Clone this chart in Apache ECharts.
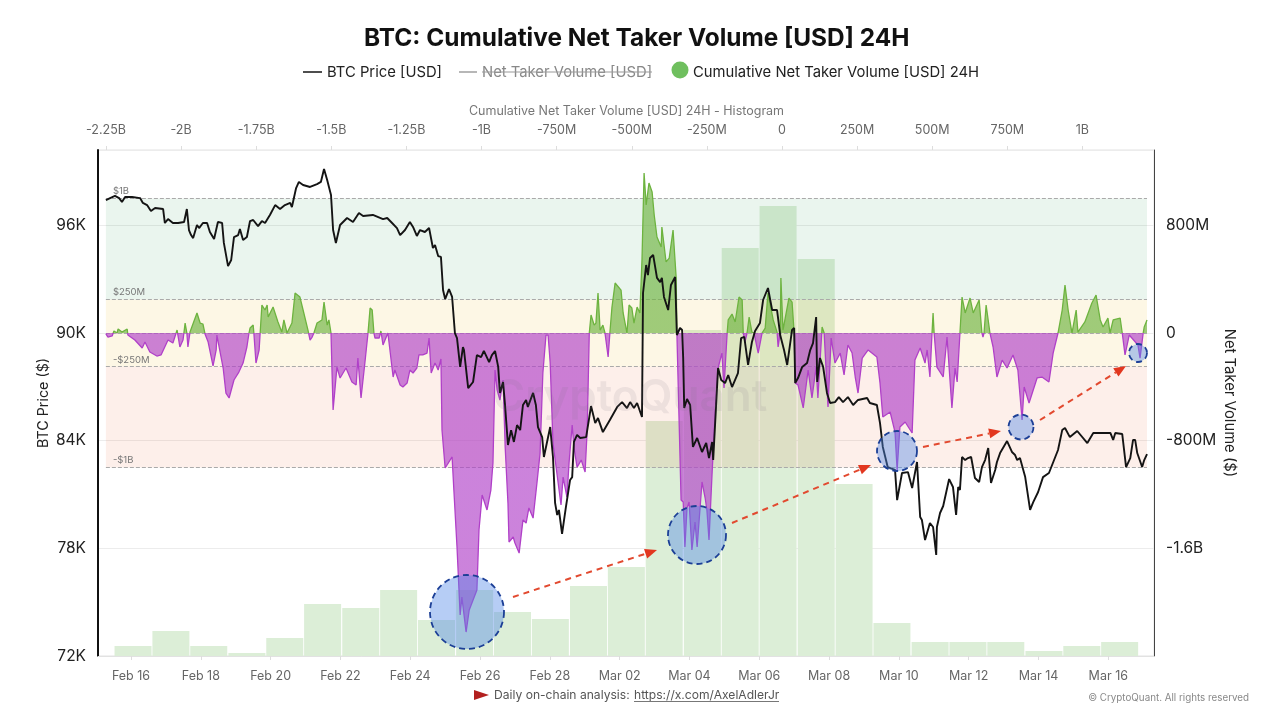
<!DOCTYPE html>
<html>
<head>
<meta charset="utf-8">
<title>BTC: Cumulative Net Taker Volume [USD] 24H</title>
<script src="https://cdn.jsdelivr.net/npm/echarts@6/dist/echarts.min.js"></script>
<style>
html,body{margin:0;padding:0;background:#fff;}
#main{width:1280px;height:720px;}
</style>
</head>
<body>
<div id="main"></div>
<script>
// days are counted from Feb 16 2025 00:00 UTC
var priceDays = [-0.72,-0.60,-0.46,-0.34,-0.26,-0.17,0.03,0.26,0.34,0.46,0.57,0.69,0.92,0.97,1.06,1.20,1.35,1.52,1.60,1.66,1.72,1.78,1.89,1.95,2.06,2.18,2.26,2.38,2.49,2.61,2.66,2.78,2.87,2.95,3.07,3.12,3.21,3.32,3.41,3.50,3.64,3.75,3.84,3.98,4.13,4.27,4.41,4.56,4.61,4.73,4.81,4.93,5.13,5.33,5.44,5.53,5.62,5.73,5.79,5.87,5.99,6.19,6.36,6.53,6.65,6.93,7.22,7.34,7.48,7.62,7.71,7.85,7.99,8.08,8.19,8.28,8.42,8.54,8.65,8.71,8.80,8.88,8.94,9.00,9.11,9.20,9.25,9.28,9.34,9.43,9.51,9.54,9.66,9.80,9.91,10.03,10.11,10.26,10.34,10.43,10.52,10.57,10.66,10.72,10.80,10.89,10.97,11.06,11.15,11.23,11.32,11.37,11.52,11.60,11.66,11.78,11.83,12.01,12.09,12.15,12.21,12.26,12.35,12.46,12.58,12.64,12.69,12.78,12.87,13.04,13.18,13.30,13.38,13.52,13.72,13.93,14.07,14.21,14.30,14.41,14.50,14.64,14.67,14.76,14.81,14.87,14.96,15.07,15.16,15.21,15.27,15.39,15.47,15.59,15.64,15.73,15.79,15.82,15.85,15.93,16.02,16.10,16.22,16.36,16.48,16.56,16.65,16.68,16.82,16.91,17.02,17.11,17.22,17.39,17.48,17.57,17.68,17.79,17.88,18.02,18.11,18.25,18.37,18.51,18.60,18.71,18.80,18.94,19.00,19.03,19.11,19.23,19.37,19.46,19.54,19.63,19.66,19.74,19.83,19.94,20.03,20.17,20.28,20.40,20.54,20.69,20.83,21.09,21.17,21.37,21.46,21.54,21.68,21.89,21.95,22.09,22.26,22.38,22.52,22.61,22.66,22.75,22.89,22.98,23.07,23.09,23.18,23.27,23.44,23.55,23.64,23.70,23.75,23.81,23.90,23.98,24.07,24.18,24.30,24.38,24.47,24.56,24.64,24.76,24.81,24.90,25.10,25.24,25.33,25.39,25.47,25.62,25.76,25.85,25.99,26.13,26.30,26.56,26.68,26.76,26.90,27.11,27.40,27.57,27.77,28.06,28.14,28.20,28.40,28.51,28.63,28.71,28.77,28.83,28.97,29.03,29.11];
var priceValues = [97410,97520,97640,97520,97300,97580,97580,97520,97250,97130,96800,96970,96910,96130,96350,96130,96130,96190,96910,95740,95460,95290,96020,95850,96130,96130,95630,95240,96190,96130,95020,93730,94070,95350,95460,95800,95180,95350,96240,96300,95960,96240,96130,96580,97130,96910,97130,97250,97020,98080,98420,98250,98140,98300,98420,99140,98530,97690,95740,95020,96020,96410,96190,96690,96520,96580,96350,96410,96130,95850,95460,95740,96190,95910,95410,95740,95630,95850,94740,94900,94290,94240,92400,91890,92450,92010,92060,90000,89720,88110,89220,89050,86930,87270,88770,88660,89000,88380,88770,89000,88110,86660,87270,85880,83760,84590,83930,84870,84590,85990,86270,85880,86660,85990,84760,84200,83090,84760,83090,80530,79860,80140,78800,80300,81810,81970,83930,84320,84150,84200,85930,84980,85260,84480,85150,85880,86150,85820,86150,85820,86100,85320,92230,93790,93230,94180,94350,93070,92840,93070,92010,91280,92680,93120,89890,90280,90170,88610,85820,86320,85990,83650,84150,83370,83870,83030,83930,82920,88050,87380,87210,87660,86990,87770,89720,89780,88220,89500,90110,90560,91840,92510,91280,91280,89890,89050,88220,90170,90280,87210,87490,88110,88330,89050,89440,90890,87270,88610,88110,86660,86100,86150,86430,86150,86430,85990,86270,86380,86100,85990,84980,83650,82530,82370,80690,82200,82250,81360,82810,79750,79580,78460,79410,79190,77630,79190,79970,80360,81860,81420,79860,81420,81250,83090,82920,83030,83090,81920,81700,82530,82920,83590,81640,82370,82810,83310,83980,83370,83200,82920,83030,81970,80140,80580,81140,81970,82200,83480,84590,84710,84200,84540,83870,84430,84430,84430,84040,84430,84370,82530,83030,84040,84040,83310,82530,82920,83250];

// cumulative net taker volume, millions of USD
var netDays = [-0.72,-0.66,-0.54,-0.49,-0.40,-0.37,-0.26,-0.11,-0.09,0.11,0.32,0.40,0.54,0.74,0.86,1.06,1.20,1.32,1.40,1.49,1.55,1.60,1.63,1.69,1.89,1.98,2.06,2.12,2.21,2.35,2.44,2.46,2.64,2.72,2.81,2.95,3.09,3.21,3.32,3.38,3.41,3.50,3.52,3.58,3.67,3.70,3.75,3.84,3.90,3.93,4.07,4.21,4.32,4.38,4.47,4.61,4.70,4.84,4.93,5.07,5.13,5.19,5.24,5.33,5.47,5.53,5.62,5.67,5.73,5.76,5.79,5.90,5.99,6.16,6.33,6.45,6.50,6.59,6.70,6.79,6.85,6.91,6.96,6.99,7.11,7.16,7.22,7.36,7.51,7.56,7.71,7.79,7.91,7.99,8.08,8.19,8.25,8.36,8.48,8.54,8.60,8.71,8.80,8.88,8.91,9.00,9.20,9.25,9.34,9.43,9.48,9.60,9.69,9.80,9.91,9.97,10.06,10.11,10.20,10.31,10.37,10.43,10.49,10.57,10.66,10.72,10.80,10.83,10.95,11.00,11.12,11.23,11.32,11.40,11.52,11.63,11.72,11.80,11.89,11.95,12.01,12.09,12.32,12.38,12.49,12.55,12.64,12.69,12.78,12.90,13.01,13.07,13.13,13.18,13.27,13.32,13.38,13.44,13.52,13.58,13.67,13.72,13.78,13.87,14.04,14.10,14.21,14.27,14.35,14.41,14.50,14.58,14.64,14.70,14.76,14.84,14.93,14.99,15.07,15.19,15.21,15.33,15.42,15.53,15.62,15.64,15.73,15.76,15.82,15.87,15.93,15.99,16.07,16.16,16.22,16.36,16.45,16.50,16.56,16.65,16.73,16.82,16.93,16.99,17.08,17.11,17.22,17.31,17.42,17.51,17.54,17.59,17.65,17.71,17.79,17.85,17.97,18.08,18.17,18.25,18.40,18.51,18.54,18.60,18.62,18.68,18.85,18.94,19.00,19.03,19.11,19.26,19.40,19.51,19.63,19.68,19.80,19.86,19.97,20.06,20.17,20.32,20.43,20.54,20.66,20.75,20.83,20.95,21.12,21.37,21.46,21.54,21.75,21.89,21.95,22.03,22.18,22.38,22.46,22.61,22.75,22.81,22.89,22.95,22.98,23.01,23.09,23.27,23.38,23.52,23.61,23.67,23.75,23.81,23.90,24.04,24.13,24.30,24.38,24.41,24.44,24.50,24.61,24.70,24.81,24.96,25.10,25.27,25.41,25.53,25.59,25.73,25.96,26.10,26.30,26.42,26.56,26.68,26.76,26.85,26.96,27.08,27.13,27.33,27.53,27.65,27.77,27.85,27.99,28.05,28.14,28.34,28.40,28.48,28.60,28.85,28.91,29.00,29.03,29.11];
var netValues = [-7,-30,-22,15,0,30,7,30,-15,-52,-111,-67,-141,-171,-163,-52,-74,22,-104,-52,74,0,-104,7,149,74,67,-7,-67,-245,-126,-15,-260,-446,-483,-349,-290,-223,-104,0,37,59,0,-223,-126,0,208,171,208,119,193,82,7,97,0,74,297,267,171,22,-52,-30,0,74,97,230,59,97,0,-297,-572,-253,-334,-260,-364,-386,-186,-483,-223,0,186,171,0,-37,-37,15,-89,0,-327,-275,-386,-401,-372,-275,-297,-260,-163,-163,-149,-37,-297,-223,-275,-193,-721,-1003,-921,-1167,-1590,-2095,-1962,-2222,-2058,-1984,-1910,-1464,-1204,-1204,-1315,-1167,-966,-275,-424,-498,-349,-847,-1263,-1553,-1516,-1560,-1635,-1389,-1412,-1300,-1375,-1115,-892,-297,-15,-15,-223,-817,-1278,-1070,-1219,-966,-684,-847,-996,-944,-1033,-721,0,134,59,74,297,22,59,0,-178,0,193,372,319,149,0,208,186,74,193,149,542,1189,951,1115,1048,877,713,639,788,528,557,765,409,0,-929,-1241,-1256,-1590,-1300,-1256,-1612,-1404,-1590,-1107,-1226,-1315,-1538,-1033,-632,-260,-149,-409,0,97,141,82,267,245,7,-67,0,119,7,0,-149,0,37,297,97,7,-104,0,409,22,260,230,0,-372,-386,-557,-275,-483,-253,-483,45,0,-550,-37,-223,-149,-312,-89,-149,-327,-446,-186,-126,-178,-372,-624,-587,-736,-1018,-698,-661,-743,-201,-111,-223,-126,-327,0,149,0,-253,-327,-30,-557,-260,-364,0,267,149,260,149,245,0,-30,0,208,0,-104,-327,-201,-260,-163,-275,-646,-401,-520,-334,-327,-364,-149,0,171,357,171,0,171,7,82,223,282,97,45,111,0,97,111,0,-163,-15,-89,-186,0,45,97];

// histogram over the top axis: bin middle in millions, bar height
var histBins = [-2160,-2034,-1908,-1781,-1655,-1529,-1402,-1276,-1150,-1023,-897,-771,-644,-518,-392,-265,-139,-13,114,240,366,493,619,745,872,998,1124];
var histCounts = [10,25,10,3,18,52,48,66,36,66,44,37,70,89,235,326,408,450,397,172,33,14,14,14,5,10,14];

var tickDays = [0,2,4,6,8,10,12,14,16,18,20,22,24,26,28];
var monthNames = ['Jan','Feb','Mar'];

var FONT = 'Inter, "Noto Sans", sans-serif';
var DAY = 86400000;
var t0 = Date.UTC(2025, 1, 16);
function pairs(xs, ys) {
    return xs.map(function (x, i) { return [x, ys[i]]; });
}
function moneyLabel(v) {
    if (v === 0) return '0';
    if (Math.abs(v) >= 1000) return (v / 1000) + 'B';
    return v + 'M';
}

var chart = echarts.init(document.getElementById('main'));

var bandStart = -0.72, bandEnd = 29.11;

// annotations drawn over the chart
function arrow(x1, y1, x2, y2) {
    var a = Math.atan2(y2 - y1, x2 - x1), s = 12, w = 5;
    var bx = x2 - s * Math.cos(a), by = y2 - s * Math.sin(a);
    return [
        { type: 'line', z: 100, silent: true, shape: { x1: x1, y1: y1, x2: bx, y2: by },
          style: { stroke: '#e2492f', lineWidth: 2, lineDash: [6, 5] } },
        { type: 'polygon', z: 100, silent: true,
          shape: { points: [[x2, y2], [bx - w * Math.sin(a), by + w * Math.cos(a)], [bx + w * Math.sin(a), by - w * Math.cos(a)]] },
          style: { fill: '#e2371f' } }
    ];
}
function circle(cx, cy, r) {
    return { type: 'circle', z: 99, silent: true, shape: { cx: cx, cy: cy, r: r },
             style: { fill: 'rgba(80,135,230,0.42)', stroke: '#1c3f96', lineWidth: 1.8, lineDash: [6, 4] } };
}
function label(x, y, text, size, color, extra) {
    var st = { x: x, y: y, text: text, font: (size) + 'px ' + FONT, fill: color, textVerticalAlign: 'middle' };
    for (var k in (extra || {})) st[k] = extra[k];
    return { type: 'text', z: 50, silent: true, style: st };
}
function rule(x1, y1, x2, y2, color, w) {
    return { type: 'line', z: 50, silent: true, shape: { x1: x1, y1: y1, x2: x2, y2: y2 }, style: { stroke: color, lineWidth: w } };
}

var graphics = [
    // legend
    rule(303, 72, 322, 72, '#222', 1.6),
    label(327, 72.5, 'BTC Price [USD]', 14.8, '#222'),
    rule(459, 72, 477, 72, '#999', 1.4),
    label(482, 72.5, 'Net Taker Volume [USD]', 14.8, '#888'),
    rule(482, 72, 652, 72, '#999', 1),
    { type: 'circle', z: 50, silent: true, shape: { cx: 680, cy: 70, r: 8.5 }, style: { fill: '#6fbf5e' } },
    label(693, 72.5, 'Cumulative Net Taker Volume [USD] 24H', 14.8, '#222'),
    // footer
    { type: 'polygon', z: 50, silent: true, shape: { points: [[474, 690], [489, 695], [474, 700]] }, style: { fill: '#b3201f' } },
    label(494, 695, 'Daily on-chain analysis:', 12.1, '#555'),
    label(634, 695, 'https://x.com/AxelAdlerJr', 12.1, '#555'),
    rule(634, 701.5, 779, 701.5, '#777', 1),
    label(1249, 698, '© CryptoQuant. All rights reserved', 9.8, '#888', { textAlign: 'right' }),
    // watermark
    label(630, 398, 'CryptoQuant', 44, 'rgba(120,115,135,0.12)', { textAlign: 'center', font: '600 44px ' + FONT }),
    circle(467, 612, 37), circle(697, 535, 29), circle(897, 451, 20), circle(1021, 427, 12.5), circle(1138, 353, 9)
]
    .concat(arrow(513, 597, 657, 550))
    .concat(arrow(732, 523, 871, 465))
    .concat(arrow(923, 447, 1001, 431))
    .concat(arrow(1040, 420, 1126, 366));

var option = {
    animation: false,
    backgroundColor: '#fff',
    textStyle: { fontFamily: FONT },
    title: {
        text: 'BTC: Cumulative Net Taker Volume [USD] 24H',
        left: 359, top: 22,
        textStyle: { fontFamily: FONT, fontSize: 24.4, fontWeight: 700, color: '#111' }
    },
    grid: [
        { left: 98, right: 126, top: 150, bottom: 64, show: true, borderColor: '#e2e2e2', borderWidth: 1, backgroundColor: 'transparent' },
        { left: 106, right: 133, top: 150, bottom: 64 }
    ],
    xAxis: [
        {
            type: 'value', gridIndex: 0, position: 'bottom',
            min: -0.946, max: 29.31,
            splitLine: { show: false },
            axisLine: { onZero: false, lineStyle: { color: '#e2e2e2' } },
            axisTick: { show: true, length: 4, lineStyle: { color: '#ddd' }, customValues: tickDays },
            axisLabel: {
                color: '#666', fontSize: 12.5, margin: 14,
                customValues: tickDays,
                formatter: function (v) {
                    var d = new Date(t0 + v * DAY), n = d.getUTCDate();
                    return monthNames[d.getUTCMonth()] + ' ' + (n < 10 ? '0' + n : n);
                }
            }
        },
        {
            type: 'value', gridIndex: 1, position: 'top',
            min: -2250, max: 1215, interval: 250,
            name: 'Cumulative Net Taker Volume [USD] 24H - Histogram',
            nameLocation: 'middle', nameGap: 32,
            nameTextStyle: { color: '#777', fontSize: 12.5 },
            splitLine: { show: false },
            axisLine: { show: false, onZero: false },
            axisTick: { show: true, length: 4, lineStyle: { color: '#ddd' } },
            axisLabel: { color: '#666', fontSize: 12.5, margin: 13, showMaxLabel: false, formatter: moneyLabel }
        }
    ],
    yAxis: [
        {
            type: 'value', gridIndex: 0, position: 'left',
            min: 72000, max: 100200, interval: 6000,
            name: 'BTC Price ($)', nameLocation: 'middle', nameGap: 47, nameRotate: 90, nameMoveOverlap: false,
            nameTextStyle: { color: '#222', fontSize: 14.3 },
            axisLine: { show: true, onZero: false, lineStyle: { color: '#111', width: 2 } },
            axisTick: { show: false },
            splitLine: { show: true, lineStyle: { color: '#ececec' } },
            axisLabel: { color: '#222', fontSize: 15.5, margin: 12, showMaxLabel: false, formatter: function (v) { return (v / 1000) + 'K'; } }
        },
        {
            type: 'value', gridIndex: 0, position: 'right',
            min: -2400, max: 1360, interval: 800,
            name: 'Net Taker Volume ($)', nameLocation: 'middle', nameGap: 68, nameRotate: -90, nameMoveOverlap: false,
            nameTextStyle: { color: '#222', fontSize: 14.8 },
            axisLine: { show: true, onZero: false, lineStyle: { color: '#444', width: 1 } },
            axisTick: { show: false },
            splitLine: { show: false },
            axisLabel: { color: '#222', fontSize: 15.5, margin: 12, showMinLabel: false, showMaxLabel: false, formatter: moneyLabel }
        },
        { type: 'value', gridIndex: 1, min: 0, max: 506, show: false }
    ],
    visualMap: {
        show: false, type: 'piecewise', seriesIndex: 2, dimension: 1,
        pieces: [{ min: -3000, max: 0, color: '#b040c8' }, { min: 0, max: 3000, color: '#6db33f' }]
    },
    series: [
        {
            name: 'Histogram', type: 'bar', xAxisIndex: 1, yAxisIndex: 2, z: 1,
            barWidth: 37, silent: true,
            itemStyle: { color: '#dceed7' },
            data: histBins.map(function (b, i) { return [b, histCounts[i]]; })
        },
        {
            name: 'Bands', type: 'line', xAxisIndex: 0, yAxisIndex: 1, z: 2, silent: true,
            data: [],
            // translucent so that the bars below show through as in the original
            markArea: {
                silent: true, z: 2,
                data: [
                    [{ coord: [bandStart, 1000], itemStyle: { color: 'rgba(25,145,65,0.09)' } }, { coord: [bandEnd, 250] }],
                    [{ coord: [bandStart, 250], itemStyle: { color: 'rgba(237,173,0,0.10)' } }, { coord: [bandEnd, -250] }],
                    [{ coord: [bandStart, -250], itemStyle: { color: 'rgba(235,65,15,0.085)' } }, { coord: [bandEnd, -1000] }]
                ]
            },
            markLine: {
                silent: true, symbol: 'none', z: 2,
                lineStyle: { color: '#aaa', type: 'dashed', width: 1 },
                label: { position: 'insideStartTop', color: '#777', fontSize: 9.5, distance: 2, fontFamily: FONT, padding: [0, 0, 0, 5] },
                data: [
                    [{ coord: [bandStart, 1000], name: '$1B' }, { coord: [bandEnd, 1000] }],
                    [{ coord: [bandStart, 250], name: '$250M' }, { coord: [bandEnd, 250] }],
                    [{ coord: [bandStart, 0], name: '', label: { show: false } }, { coord: [bandEnd, 0] }],
                    [{ coord: [bandStart, -250], name: '-$250M' }, { coord: [bandEnd, -250] }],
                    [{ coord: [bandStart, -1000], name: '-$1B' }, { coord: [bandEnd, -1000] }]
                ]
            }
        },
        {
            name: 'Cumulative Net Taker Volume [USD] 24H', type: 'line', xAxisIndex: 0, yAxisIndex: 1, z: 3,
            showSymbol: false, symbol: 'none', lineStyle: { width: 1.3 },
            areaStyle: { opacity: 0.65 },
            data: pairs(netDays, netValues)
        },
        {
            name: 'BTC Price [USD]', type: 'line', xAxisIndex: 0, yAxisIndex: 0, z: 4,
            showSymbol: false, symbol: 'none',
            lineStyle: { color: '#141414', width: 1.9 },
            itemStyle: { color: '#141414' },
            data: pairs(priceDays, priceValues)
        }
    ],
    graphic: graphics
};

chart.setOption(option);
</script>
</body>
</html>
